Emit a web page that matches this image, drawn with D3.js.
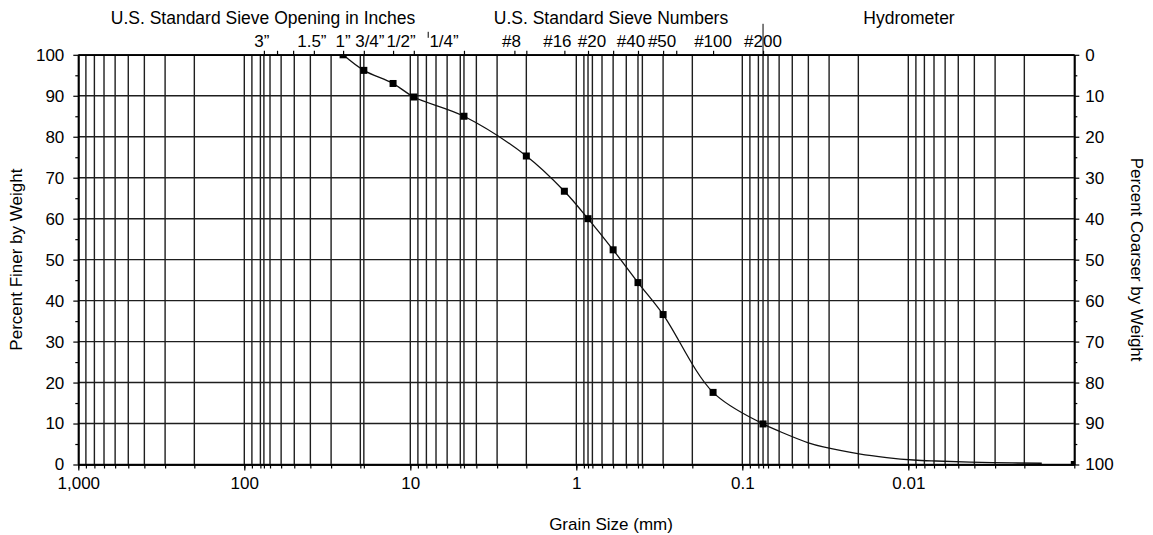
<!DOCTYPE html>
<html>
<head>
<meta charset="utf-8">
<script src="https://cdn.jsdelivr.net/npm/d3@7"></script>
<style>
    body { margin: 0; background: #fff; }
    svg { font-family: "Liberation Sans", Arial, sans-serif; }
</style>
</head>
<body>
<div id="chart"></div>
<script>
// sieve results: grain size (mm) and percent finer
var sieveSizes = [25.4, 19.05, 12.7, 9.525, 4.75, 2.0, 1.18, 0.85, 0.6, 0.425, 0.3, 0.15, 0.075];
var sievePercents = [100, 96.2, 93.0, 89.7, 85.0, 75.3, 66.7, 60.0, 52.4, 44.4, 36.6, 17.6, 9.9];

// hydrometer readings (no markers)
var hydroSizes = [0.059, 0.040, 0.0325, 0.0198, 0.0135, 0.0093, 0.0068, 0.0031, 0.00157];
var hydroPercents = [8.0, 5.3, 4.3, 2.6, 1.7, 1.1, 0.85, 0.45, 0.3];

// pan
var panSizes = [0.001];
var panPercents = [0];

// top axis: sieve openings
var sieveTickSizes = [76.2, 63.5, 50.8, 38.1, 25.4, 19.05, 12.7, 9.525, 4.75, 2.36, 2.0, 1.18, 0.85, 0.6, 0.425, 0.3, 0.25, 0.15, 0.075];
var sieveLabels = ["3\u201d", "1.5\u201d", "1\u201d", "3/4\u201d", "1/2\u201d", "1/4\u201d", "#8", "#16", "#20", "#40", "#50", "#100", "#200"];
var sieveLabelSizes = [76.2, 38.1, 25.4, 19.05, 12.7, 6.35, 2.36, 1.18, 0.85, 0.425, 0.3, 0.15, 0.075];
var groupTitles = ["U.S. Standard Sieve Opening in Inches", "U.S. Standard Sieve Numbers", "Hydrometer"];

// extra vertical grid lines on some sieve sizes
var extraGridSizes = [76.2, 19.05, 4.75, 0.85, 0.425, 0.075];
var decades = [1000, 100, 10, 1, 0.1, 0.01];
var percentTicks = [0, 10, 20, 30, 40, 50, 60, 70, 80, 90, 100];
var percentMinor = [5, 15, 25, 35, 45, 55, 65, 75, 85, 95];

var W = 1153, H = 535;
var margin = { top: 54.8, right: 78.7, bottom: 70.5, left: 78.3 },
    width = W - margin.left - margin.right,
    height = H - margin.top - margin.bottom;

var svg = d3.select("#chart")
    .append("svg")
    .attr("width", W)
    .attr("height", H)
    .append("g")
    .attr("transform", "translate(" + margin.left + "," + margin.top + ")");

var x = d3.scaleLog().domain([1000, 0.001]).range([0, width]);
var y = d3.scaleLinear().domain([0, 100]).range([height, 0]);
var yr = d3.scaleLinear().domain([100, 0]).range([height, 0]);

var gridColor = "#1e1e1e";

// vertical grid
var gridValues = x.ticks().concat(extraGridSizes);
svg.append("g")
    .selectAll("line")
    .data(gridValues)
    .join("line")
    .attr("x1", d => x(d))
    .attr("x2", d => x(d))
    .attr("y1", 0)
    .attr("y2", height)
    .attr("stroke", gridColor)
    .attr("stroke-width", 1.4);

// horizontal grid
svg.append("g")
    .selectAll("line")
    .data(percentTicks)
    .join("line")
    .attr("x1", 0)
    .attr("x2", width)
    .attr("y1", d => y(d))
    .attr("y2", d => y(d))
    .attr("stroke", gridColor)
    .attr("stroke-width", 1.4);

// axes
function styleAxis(g, fs) {
    g.select(".domain").attr("stroke", "#000").attr("stroke-width", 1.5);
    g.selectAll(".tick line").attr("stroke", "#000").attr("stroke-width", 1.2);
    g.selectAll("text").attr("font-size", fs).attr("fill", "#000")
        .attr("font-family", "'Liberation Sans', Arial, sans-serif");
}

// bottom
svg.append("g")
    .attr("transform", "translate(0," + height + ")")
    .call(d3.axisBottom(x).tickValues(gridValues).tickSize(4).tickFormat("").tickSizeOuter(0))
    .call(g => styleAxis(g, 17));
svg.append("g")
    .attr("transform", "translate(0," + height + ")")
    .call(d3.axisBottom(x).tickValues(decades).tickSize(6).tickPadding(6).tickFormat(d3.format(",")).tickSizeOuter(0))
    .call(g => styleAxis(g, 17));

// left
svg.append("g")
    .call(d3.axisLeft(y).tickValues(percentMinor).tickSize(3).tickFormat("").tickSizeOuter(0))
    .call(g => styleAxis(g, 17));
svg.append("g")
    .call(d3.axisLeft(y).tickValues(percentTicks).tickSize(5).tickPadding(9).tickSizeOuter(0))
    .call(g => styleAxis(g, 17));

// right
svg.append("g")
    .attr("transform", "translate(" + width + ",0)")
    .call(d3.axisRight(yr).tickValues(percentMinor).tickSize(3).tickFormat("").tickSizeOuter(0))
    .call(g => styleAxis(g, 17));
svg.append("g")
    .attr("transform", "translate(" + width + ",0)")
    .call(d3.axisRight(yr).tickValues(percentTicks).tickSize(5).tickPadding(6).tickSizeOuter(0))
    .call(g => styleAxis(g, 17));

// top: sieve ticks
svg.append("g")
    .call(d3.axisTop(x).tickValues(sieveTickSizes).tickSize(4).tickFormat("").tickSizeOuter(0))
    .call(g => styleAxis(g, 17));

// labels are nudged a little sideways so they do not collide
var labelNudge = [-2, -2, 0, 6, 8, 1, -3, -7, 4, -7, -1, 0, 0];
svg.append("g")
    .selectAll("text")
    .data(sieveLabels)
    .join("text")
    .attr("x", (d, i) => x(sieveLabelSizes[i]) + labelNudge[i])
    .attr("y", -8)
    .attr("text-anchor", "middle")
    .attr("font-size", 17)
    .text(d => d);

// group dividers
svg.append("line")
    .attr("x1", x(7.8)).attr("x2", x(7.8))
    .attr("y1", -23).attr("y2", -17)
    .attr("stroke", "#000");
svg.append("line")
    .attr("x1", x(0.075)).attr("x2", x(0.075))
    .attr("y1", -31).attr("y2", 0)
    .attr("stroke", "#000");

// group titles
var titleX = [263 - margin.left, 611 - margin.left, 909 - margin.left];
svg.append("g")
    .selectAll("text")
    .data(groupTitles)
    .join("text")
    .attr("x", (d, i) => titleX[i])
    .attr("y", -31)
    .attr("text-anchor", "middle")
    .attr("font-size", 17.5)
    .text(d => d);

// axis titles
svg.append("text")
    .attr("x", 611 - margin.left)
    .attr("y", height + 65.5)
    .attr("text-anchor", "middle")
    .attr("font-size", 17)
    .text("Grain Size (mm)");
svg.append("text")
    .attr("transform", "translate(" + (-56) + "," + (height / 2) + ") rotate(-90)")
    .attr("text-anchor", "middle")
    .attr("font-size", 17)
    .text("Percent Finer by Weight");
svg.append("text")
    .attr("transform", "translate(" + (width + 57) + "," + (height / 2) + ") rotate(90)")
    .attr("text-anchor", "middle")
    .attr("font-size", 17)
    .text("Percent Coarser by Weight");

// gradation curve
var curveData = sieveSizes.map((s, i) => ({ size: s, pct: sievePercents[i] }))
    .concat(hydroSizes.map((s, i) => ({ size: s, pct: hydroPercents[i] })));

svg.append("clipPath").attr("id", "plot")
    .append("rect").attr("width", width).attr("height", height);

var plot = svg.append("g").attr("clip-path", "url(#plot)");

plot.append("path")
    .datum(curveData)
    .attr("fill", "none")
    .attr("stroke", "#111")
    .attr("stroke-width", 1.3)
    .attr("d", d3.line()
        .x(d => x(d.size))
        .y(d => y(d.pct))
        .curve(d3.curveCatmullRom.alpha(0.5)));

var markers = sieveSizes.map((s, i) => ({ size: s, pct: sievePercents[i] }))
    .concat(panSizes.map((s, i) => ({ size: s, pct: panPercents[i] })));

plot.selectAll("rect.m")
    .data(markers)
    .join("rect")
    .attr("class", "m")
    .attr("x", d => x(d.size) - 3.5)
    .attr("y", d => y(d.pct) - 3.5)
    .attr("width", 7)
    .attr("height", 7)
    .attr("fill", "#000");
</script>
</body>
</html>
